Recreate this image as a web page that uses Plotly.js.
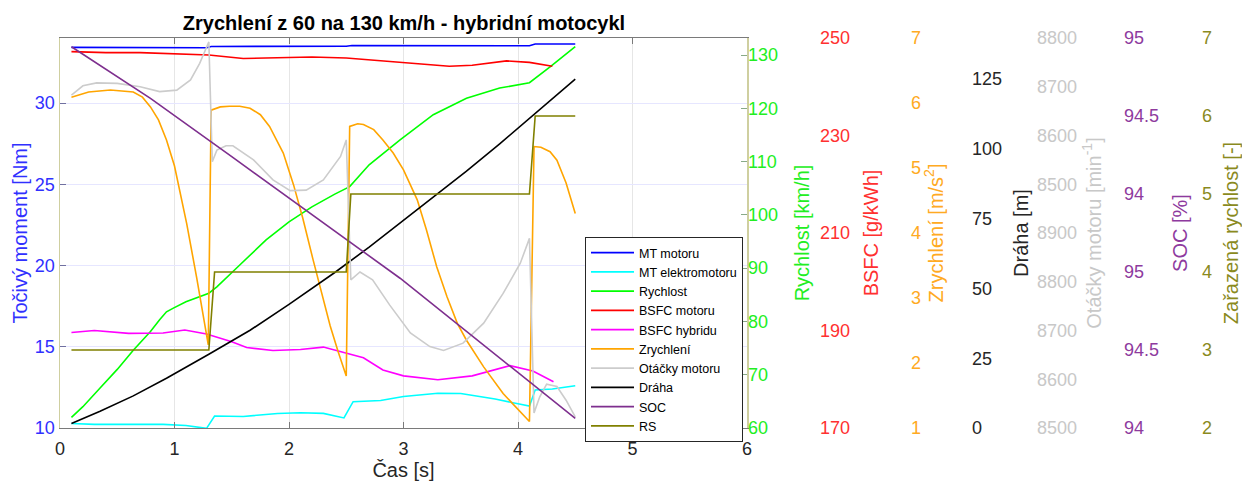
<!DOCTYPE html>
<html>
<head>
<meta charset="utf-8">
<script src="https://cdn.plot.ly/plotly-3.0.1.min.js"></script>
<style>
  html, body { margin: 0; padding: 0; background: #ffffff; }
  #chart { width: 1242px; height: 481px; }
</style>
</head>
<body>
<div id="chart"></div>
<script>
// ---------------- DATA ----------------
const tMT = [0.1, 1.28, 1.32, 2.5, 2.55, 4.1, 4.15, 4.5];
const mtMotoru = [33.42, 33.40, 33.48, 33.49, 33.54, 33.52, 33.63, 33.63];

const tMTE = [0.1, 0.3, 0.6, 0.9, 1.1, 1.28, 1.35, 1.6, 1.9, 2.1, 2.3, 2.48, 2.56, 2.8, 3.0, 3.3, 3.5, 3.8, 4.1, 4.15, 4.3, 4.5];
const mtElektromotoru = [10.28, 10.22, 10.22, 10.22, 10.15, 9.98, 10.74, 10.71, 10.89, 10.94, 10.90, 10.62, 11.62, 11.69, 11.94, 12.14, 12.12, 11.78, 11.35, 12.34, 12.40, 12.60];

const tRych = [0.1, 0.2, 0.35, 0.5, 0.64, 0.79, 0.87, 0.93, 0.99, 1.1, 1.3, 1.37, 1.57, 1.8, 2.0, 2.2, 2.4, 2.53, 2.7, 2.97, 3.26, 3.55, 3.84, 4.1, 4.28, 4.5];
const rychlost = [62.0, 64.0, 67.5, 71.0, 74.6, 78.1, 80.3, 81.8, 82.5, 83.7, 85.3, 86.5, 90.6, 95.3, 98.7, 101.5, 103.9, 105.3, 109.4, 114.1, 118.8, 121.9, 123.8, 124.8, 127.8, 131.6];

const tBSFCm = [0.1, 0.4, 0.7, 1.0, 1.3, 1.6, 1.9, 2.2, 2.5, 2.8, 3.1, 3.4, 3.6, 3.9, 4.1, 4.3];
const bsfcMotoru = [247.2, 247.0, 247.0, 246.8, 246.5, 245.8, 246.0, 246.1, 245.9, 245.3, 244.7, 244.2, 244.4, 245.3, 245.0, 244.2];

const tBSFCh = [0.1, 0.3, 0.6, 0.9, 1.09, 1.28, 1.5, 1.63, 1.86, 2.1, 2.3, 2.5, 2.65, 2.82, 3.0, 3.3, 3.6, 3.93, 4.13, 4.31];
const bsfcHybridu = [189.6, 190.0, 189.4, 189.5, 190.1, 189.3, 187.7, 186.5, 185.9, 186.1, 186.6, 185.3, 184.4, 181.9, 180.7, 179.9, 180.7, 182.8, 181.7, 179.5];

const tZrych = [0.1, 0.25, 0.44, 0.64, 0.72, 0.79, 0.86, 0.93, 1.0, 1.05, 1.107, 1.194, 1.295, 1.32, 1.4, 1.48, 1.57, 1.66, 1.75, 1.83, 1.95, 2.04, 2.12, 2.21, 2.29, 2.36, 2.43, 2.5, 2.53, 2.6, 2.65, 2.74, 2.82, 2.91, 3.0, 3.12, 3.2, 3.29, 3.38, 3.47, 3.55, 3.7, 3.87, 4.0, 4.1, 4.14, 4.2, 4.28, 4.34, 4.42, 4.5];
const zrychleni = [6.09, 6.17, 6.20, 6.17, 6.09, 5.94, 5.74, 5.43, 5.03, 4.63, 4.14, 3.31, 2.28, 5.89, 5.94, 5.95, 5.95, 5.92, 5.82, 5.64, 5.23, 4.74, 4.23, 3.59, 3.03, 2.57, 2.17, 1.80, 5.64, 5.68, 5.67, 5.59, 5.43, 5.23, 4.97, 4.51, 4.05, 3.48, 3.02, 2.61, 2.35, 1.94, 1.53, 1.28, 1.10, 5.33, 5.32, 5.25, 5.12, 4.77, 4.30];

const tOtacky = [0.1, 0.2, 0.32, 0.5, 0.7, 0.87, 1.02, 1.14, 1.22, 1.27, 1.3, 1.33, 1.37, 1.45, 1.51, 1.69, 1.86, 2.01, 2.15, 2.3, 2.4, 2.45, 2.5, 2.54, 2.62, 2.73, 2.88, 3.06, 3.23, 3.35, 3.52, 3.7, 3.87, 4.02, 4.1, 4.14, 4.19, 4.25, 4.34, 4.42, 4.5];
const otacky = [9183, 9202, 9208, 9207, 9200, 9190, 9193, 9214, 9248, 9275, 9292, 9046, 9070, 9079, 9079, 9050, 9009, 8987, 8988, 9009, 9040, 9057, 9091, 8804, 8820, 8804, 8752, 8695, 8667, 8659, 8674, 8715, 8776, 8838, 8889, 8531, 8564, 8590, 8585, 8557, 8523];

const tDraha = [0.1, 0.35, 0.64, 0.93, 1.3, 1.66, 2.0, 2.4, 2.7, 2.97, 3.26, 3.55, 3.84, 4.1, 4.28, 4.5];
const draha = [1.6, 6.0, 11.5, 17.8, 26.4, 35.0, 44.3, 55.7, 64.8, 73.5, 82.6, 92.0, 101.8, 110.8, 117.2, 125.0];

const tSOC = [0.1, 0.79, 1.5, 2.39, 2.97, 4.5];
const soc = [96.444, 96.113, 95.739, 95.269, 94.960, 94.062];

const tRS = [0.1, 1.3, 1.35, 2.5, 2.54, 4.1, 4.15, 4.5];
const rs = [3, 3, 4, 4, 5, 5, 6, 6];

const xTicks = [0, 1, 2, 3, 4, 5, 6];
const otackyTickVals = [8500, 8600, 8700, 8800, 8900, 9000, 9100, 9200, 9300];
const otackyTickText = ['8500', '8600', '8700', '8800', '8900', '8500', '8600', '8700', '8800'];
const socTickVals = [94, 94.5, 95, 95.5, 96, 96.5];
const socTickText = ['94', '94.5', '95', '94', '94.5', '95'];

const chartTitle = 'Zrychlení z 60 na 130 km/h - hybridní motocykl';

// ---------------- STYLE ----------------
const FONT = 'Liberation Sans, Arial, Helvetica, sans-serif';
const C = {
  blue: '#0000ff', blueTxt: '#3030ff', cyan: '#00ffff', green: '#00ff00', greenTxt: '#22ee22',
  red: '#ff0000', redTxt: '#ff3030', magenta: '#ff00ff', orange: '#ffa500', orangeTxt: '#ffaa22',
  grey: '#cccccc', greyTxt: '#c8c8c8', black: '#000000', blackTxt: '#262626',
  purple: '#7e2f8e', purpleTxt: '#8e3a9e', olive: '#808000', oliveTxt: '#8a8a1e'
};
const PAPER_W = 1182; // 1242 - left margin 60
function px(x) { return (x - 60) / PAPER_W; }

function line(name, x, y, color, yaxis) {
  return { type: 'scatter', mode: 'lines', name: name, x: x, y: y, yaxis: yaxis,
           line: { color: color, width: 1.6 }, hoverinfo: 'skip' };
}

const data = [
  line('MT motoru', tMT, mtMotoru, C.blue, 'y'),
  line('MT elektromotoru', tMTE, mtElektromotoru, C.cyan, 'y'),
  line('Rychlost', tRych, rychlost, C.green, 'y2'),
  line('BSFC motoru', tBSFCm, bsfcMotoru, C.red, 'y3'),
  line('BSFC hybridu', tBSFCh, bsfcHybridu, C.magenta, 'y3'),
  line('Zrychlení', tZrych, zrychleni, C.orange, 'y4'),
  line('Otáčky motoru', tOtacky, otacky, C.grey, 'y6'),
  line('Dráha', tDraha, draha, C.black, 'y5'),
  line('SOC', tSOC, soc, C.purple, 'y7'),
  line('RS', tRS, rs, C.olive, 'y8')
];

function freeAxis(range, color, title, position, standoff, extra) {
  return Object.assign({
    range: range, overlaying: 'y', side: 'right', anchor: 'free', position: position,
    showgrid: false, zeroline: false, showline: false, ticks: '',
    tickfont: { family: FONT, size: 18, color: color },
    title: { text: title, font: { family: FONT, size: 20, color: color }, standoff: standoff },
    fixedrange: true
  }, extra || {});
}

const layout = {
  width: 1242, height: 481,
  margin: { l: 60, r: 0, t: 38, b: 53 },
  paper_bgcolor: '#ffffff', plot_bgcolor: '#ffffff',
  showlegend: true,
  title: { text: '<b>' + chartTitle + '</b>', font: { family: FONT, size: 20, color: '#000000' },
           x: px(404), xref: 'paper', xanchor: 'center', y: 1 - 23 / 481, yref: 'container', yanchor: 'middle' },
  xaxis: {
    domain: [0, 687 / PAPER_W], range: [0, 6], tickvals: xTicks,
    showgrid: true, gridcolor: '#e6e6e6', zeroline: false,
    showline: true, linecolor: '#7a7a7a', linewidth: 1, mirror: 'ticks',
    ticks: 'inside', ticklen: 6, tickcolor: '#7a7a7a',
    tickfont: { family: FONT, size: 18, color: '#262626' }, ticklabelstandoff: 4,
    title: { text: 'Čas [s]', font: { family: FONT, size: 20, color: '#262626' }, standoff: 12 },
    fixedrange: true
  },
  yaxis: {
    range: [10, 34], dtick: 5, tick0: 10,
    showgrid: true, gridcolor: '#e6e6ff', zeroline: false,
    showline: true, linecolor: '#cfcfa0', linewidth: 1.5, mirror: true,
    ticks: 'inside', ticklen: 6, tickcolor: '#7070a0',
    tickfont: { family: FONT, size: 18, color: C.blueTxt },
    title: { text: 'Točivý moment [Nm]', font: { family: FONT, size: 20, color: C.blueTxt }, standoff: 2 },
    fixedrange: true
  },
  yaxis2: {
    range: [60, 133.2], dtick: 10, tick0: 60, overlaying: 'y', side: 'right', anchor: 'x',
    showgrid: false, zeroline: false, showline: false,
    ticks: 'inside', ticklen: 6, tickcolor: '#88aa88',
    tickfont: { family: FONT, size: 18, color: C.greenTxt },
    title: { text: 'Rychlost [km/h]', font: { family: FONT, size: 20, color: C.greenTxt }, standoff: 17 },
    fixedrange: true
  },
  yaxis3: freeAxis([170, 250], C.redTxt, 'BSFC [g/kWh]', px(819), 14, { dtick: 20, tick0: 170 }),
  yaxis4: freeAxis([1, 7], C.orangeTxt, 'Zrychlení [m/s<sup>2</sup>]', px(910), 8, { dtick: 1, tick0: 1 }),
  yaxis5: freeAxis([0, 139.7], C.blackTxt, 'Dráha [m]', px(971), 12, { dtick: 25, tick0: 0 }),
  yaxis6: freeAxis([8500, 9300], C.greyTxt, 'Otáčky motoru [min<sup>-1</sup>]', px(1036), 10,
                   { tickmode: 'array', tickvals: otackyTickVals, ticktext: otackyTickText }),
  yaxis7: freeAxis([94, 96.5], C.purpleTxt, 'SOC [%]', px(1123), 14,
                   { tickmode: 'array', tickvals: socTickVals, ticktext: socTickText }),
  yaxis8: freeAxis([2, 7], C.oliveTxt, 'Zařazená rychlost [-]', px(1201), 13, { dtick: 1, tick0: 2 }),
  legend: {
    x: px(585), y: (428 - 237) / 390, xanchor: 'left', yanchor: 'top',
    bgcolor: '#ffffff', bordercolor: '#262626', borderwidth: 1,
    font: { family: FONT, size: 12.5, color: '#000000' },
    itemwidth: 43, tracegroupgap: 0
  }
};

Plotly.newPlot('chart', data, layout, { displayModeBar: false, staticPlot: true });
</script>
</body>
</html>
